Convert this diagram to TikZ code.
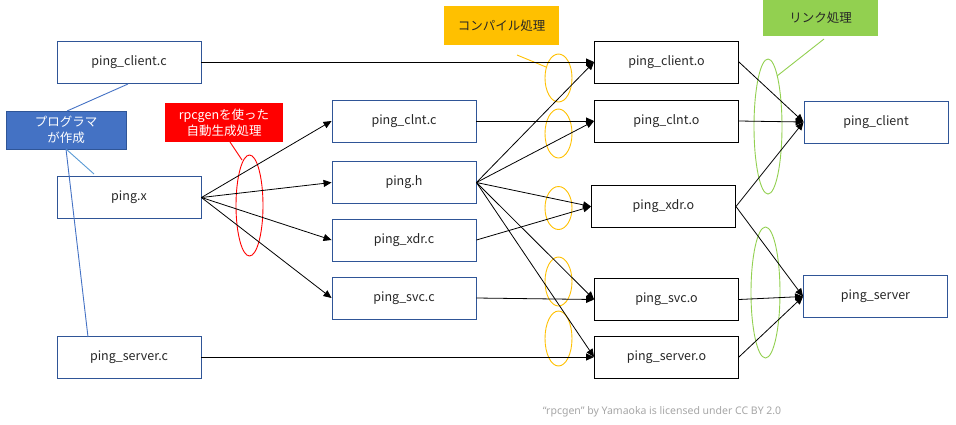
\documentclass[tikz,border=0pt]{standalone}
\usepackage{fontspec}
\setmainfont{Noto Sans CJK JP}
\newfontfamily\creditfont{Noto Sans}
\usetikzlibrary{arrows.meta}
\definecolor{boxblue}{HTML}{2F5597}
\definecolor{fillblue}{HTML}{4472C4}
\definecolor{lineblue}{HTML}{4472C4}
\definecolor{lineblue2}{HTML}{5B9BD5}
\definecolor{orangeY}{HTML}{FFC000}
\definecolor{greenL}{HTML}{92D050}
\definecolor{redR}{HTML}{FF0000}
\definecolor{creditgray}{HTML}{A6A6A6}
\definecolor{textgray}{HTML}{262626}
\tikzset{
  basebox/.style={rectangle, minimum width=144pt, minimum height=42pt, inner sep=0pt, line width=0.9pt, text=textgray, font=\fontsize{12.5pt}{15pt}\selectfont},
  srcbox/.style={basebox, draw=boxblue},
  objbox/.style={basebox, draw=black},
  lbl/.style={rectangle, inner sep=0pt, font=\fontsize{12.5pt}{16pt}\selectfont, align=center},
  arr/.style={line width=0.8pt, -{Triangle[length=8pt,width=7pt]}},
  ovalO/.style={draw=orangeY, line width=0.9pt},
  ovalG/.style={draw=greenL, line width=0.9pt},
  ovalR/.style={draw=redR, line width=0.9pt},
}
\begin{document}
\begin{tikzpicture}[x=1pt,y=-1pt]
\useasboundingbox (0,0) rectangle (956,424);

% left column
\node[srcbox] (pcc) at (129,62) {ping\_client.c};
\node[srcbox] (px)  at (129,197.5) {ping.x};
\node[srcbox] (psc) at (129,357) {ping\_server.c};

% middle column
\node[srcbox] (clntc) at (404,121) {ping\_clnt.c};
\node[srcbox] (ph)    at (404,182.5) {ping.h};
\node[srcbox] (xdrc)  at (404,240) {ping\_xdr.c};
\node[srcbox] (svcc)  at (404,298) {ping\_svc.c};

% object column
\node[objbox] (pco)   at (666.5,62) {ping\_client.o};
\node[objbox] (clnto) at (666.5,121) {ping\_clnt.o};
\node[objbox] (xdro)  at (663.5,206.5) {ping\_xdr.o};
\node[objbox] (svco)  at (666.5,299.5) {ping\_svc.o};
\node[objbox] (pso)   at (666.5,357) {ping\_server.o};

% executables
\node[srcbox] (pcl) at (876,122) {ping\_client};
\node[srcbox] (psv) at (875.5,296.5) {ping\_server};

% labels
\node[lbl, fill=fillblue, draw=boxblue, line width=0.8pt, text=white, minimum width=120pt, minimum height=38pt] (lprog) at (66,130) {プログラマ\\が作成};
\node[lbl, fill=redR, text=white, minimum width=118pt, minimum height=39pt] (lrpc) at (224,122.5) {rpcgenを使った\\自動生成処理};
\node[lbl, fill=orangeY, text=textgray, minimum width=115pt, minimum height=39pt] (lcomp) at (501.5,25.5) {コンパイル処理};
\node[lbl, fill=greenL, text=textgray, minimum width=115pt, minimum height=36pt] (llink) at (820.5,18) {リンク処理};

% callout lines
\coordinate (bp1) at (128,84);
\coordinate (bp2) at (67,111);
\coordinate (bp3) at (66,149);
\coordinate (bp4) at (94,174);
\coordinate (bp5) at (88,337);
\draw[lineblue, line width=0.9pt] (bp1) -- (bp2);
\draw[lineblue2, line width=0.9pt] (bp3) -- (bp4);
\draw[lineblue, line width=0.9pt] (bp3) -- (bp5);
\coordinate (rp1) at (230,142);
\coordinate (rp2) at (242,160);
\draw[redR, line width=0.9pt] (rp1) -- (rp2);
\coordinate (op1) at (517,55);
\coordinate (op2) at (546,67);
\draw[orangeY, line width=0.9pt] (op1) -- (op2);
\coordinate (gp1) at (824,39);
\coordinate (gp2) at (777,76);
\draw[greenL, line width=0.9pt] (gp1) -- (gp2);

% ellipses
\draw[ovalR] (249.5,205.5) ellipse [x radius=13.5pt, y radius=50.5pt];
\draw[ovalO] (558.5,78) ellipse [x radius=13.5pt, y radius=24pt];
\draw[ovalO] (558.5,133.5) ellipse [x radius=13.5pt, y radius=24.5pt];
\draw[ovalO] (558.5,208) ellipse [x radius=13.5pt, y radius=21.5pt];
\draw[ovalO] (558.5,281.5) ellipse [x radius=13.5pt, y radius=24.5pt];
\draw[ovalO] (558.5,338.5) ellipse [x radius=13.5pt, y radius=27.5pt];
\draw[ovalG] (768,126.5) ellipse [x radius=14pt, y radius=67.5pt];
\draw[ovalG] (765.5,292.5) ellipse [x radius=14.5pt, y radius=65.5pt];

% arrows
\draw[arr] (pcc.east) -- (pco.west);
\draw[arr] (px.east) -- (clntc.west);
\draw[arr] (px.east) -- (ph.west);
\draw[arr] (px.east) -- (xdrc.west);
\draw[arr] (px.east) -- (svcc.west);
\draw[arr] (clntc.east) -- (clnto.west);
\draw[arr] (ph.east) -- (pco.west);
\draw[arr] (ph.east) -- (clnto.west);
\draw[arr] (ph.east) -- (xdro.west);
\draw[arr] (ph.east) -- (svco.west);
\draw[arr] (ph.east) -- (pso.west);
\draw[arr] (xdrc.east) -- (xdro.west);
\draw[arr] (svcc.east) -- (svco.west);
\draw[arr] (psc.east) -- (pso.west);
\draw[arr] (pco.east) -- (pcl.west);
\draw[arr] (clnto.east) -- (pcl.west);
\draw[arr] (xdro.east) -- (pcl.west);
\draw[arr] (xdro.east) -- (psv.west);
\draw[arr] (svco.east) -- (psv.west);
\draw[arr] (pso.east) -- (psv.west);

% credit
\node[text=creditgray, font=\creditfont\fontsize{10.5pt}{12pt}\selectfont, inner sep=0pt] (credit) at (662,411.5) {“rpcgen” by Yamaoka is licensed under CC BY 2.0};
\end{tikzpicture}
\end{document}
